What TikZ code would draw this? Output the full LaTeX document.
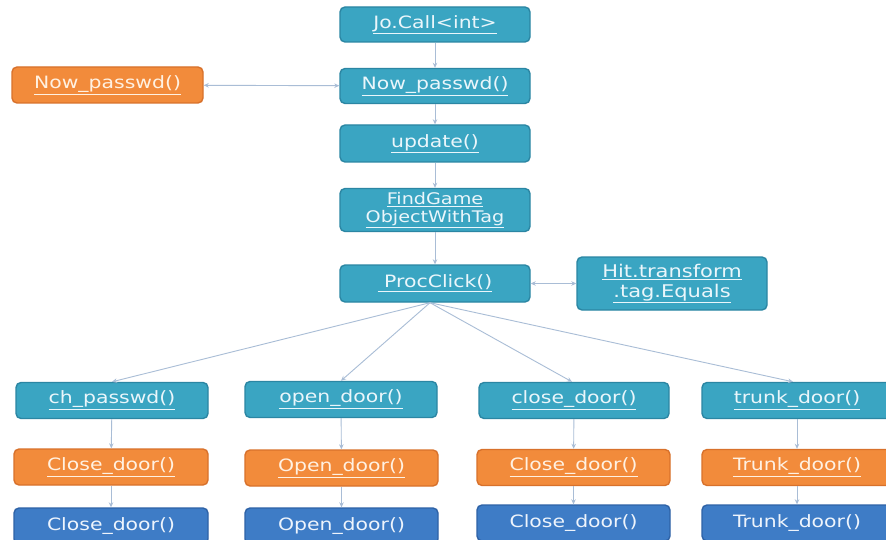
\documentclass[tikz,border=0pt]{standalone}
\usepackage{fontspec}
\setmainfont[FakeStretch=1.2]{DejaVu Sans}
\usetikzlibrary{arrows.meta}
\definecolor{tealf}{HTML}{3AA5C2}
\definecolor{tealb}{HTML}{2B86A3}
\definecolor{tealt}{HTML}{EAF6FB}
\definecolor{orgf}{HTML}{F28B3B}
\definecolor{orgb}{HTML}{D8712B}
\definecolor{orgt}{HTML}{FFF1E2}
\definecolor{bluef}{HTML}{3E7CC6}
\definecolor{blueb}{HTML}{2E62A6}
\definecolor{bluet}{HTML}{EEF4FC}
\definecolor{arr}{HTML}{A9BDD6}
\tikzset{
  box/.style={rounded corners=5pt, minimum width=190pt, minimum height=36pt,
    line width=1.4pt, inner sep=0pt, align=center,
    font=\fontsize{17}{20}\selectfont},
  tealbox/.style={box, fill=tealf, draw=tealb, text=tealt},
  orgbox/.style={box, fill=orgf, draw=orgb, text=orgt},
  bluebox/.style={box, fill=bluef, draw=blueb, text=bluet},
  conn/.style={draw=arr, line width=0.9pt, -{Stealth[length=5pt,width=4.5pt]}},
  dconn/.style={draw=arr, line width=0.9pt, {Stealth[length=5pt,width=4.5pt]}-{Stealth[length=5pt,width=4.5pt]}}
}
\newcommand{\ul}[1]{\underline{#1}}
\begin{document}
\begin{tikzpicture}[x=1pt,y=-1pt]
\useasboundingbox (0,0) rectangle (886,540);
\clip (0,0) rectangle (886,540);
\fill[white] (0,0) rectangle (886,540);

\node[tealbox, minimum height=35pt] (jo) at (435,24.5) {\ul{Jo.Call<int>}};
\node[tealbox, minimum height=35pt] (now) at (435,86) {\ul{Now\_passwd()}};
\node[orgbox, minimum width=191pt] (nowo) at (107.5,85) {\ul{Now\_passwd()}};
\node[tealbox, minimum height=37pt] (upd) at (435,143.5) {\ul{update()}};
\node[tealbox, minimum height=43pt, font=\fontsize{16}{18}\selectfont] (find) at (435,210) {\ul{FindGame}\\\ul{ObjectWithTag}};
\node[tealbox, minimum height=37pt] (proc) at (435,283.5) {\ul{\ ProcClick()}};
\node[tealbox, minimum height=53pt, font=\fontsize{17.5}{20}\selectfont] (hit) at (672,283.5) {\ul{Hit.transform}\\\ul{.tag.Equals}};

\node[tealbox, minimum width=192pt] (ch) at (112,400.5) {\ul{ch\_passwd()}};
\node[tealbox, minimum width=192pt] (od) at (341,399.5) {\ul{open\_door()}};
\node[tealbox] (cd) at (574,400.5) {\ul{close\_door()}};
\node[tealbox] (td) at (797,400.5) {\ul{trunk\_door()}};

\node[orgbox, minimum width=194pt] (ch2) at (111,467) {\ul{Close\_door()}};
\node[orgbox, minimum width=193pt] (od2) at (341.5,468) {\ul{Open\_door()}};
\node[orgbox, minimum width=193pt] (cd2) at (573.5,467.5) {\ul{Close\_door()}};
\node[orgbox] (td2) at (797,467.5) {\ul{Trunk\_door()}};

\node[bluebox, minimum width=194pt] (ch3) at (111,526) {Close\_door()};
\node[bluebox, minimum width=193pt] (od3) at (341.5,526) {Open\_door()};
\node[bluebox, minimum width=193pt] (cd3) at (573.5,523) {Close\_door()};
\node[bluebox] (td3) at (797,523) {Trunk\_door()};

\coordinate (fan) at ([xshift=-5pt]proc.south);
\draw[conn] (jo) -- (now);
\draw[dconn] (nowo) -- (now);
\draw[conn] (now) -- (upd);
\draw[conn] (upd) -- (find);
\draw[conn] (find) -- (proc);
\draw[dconn] (proc) -- (hit);
\draw[conn] (fan) -- (ch.north);
\draw[conn] (fan) -- (od.north);
\draw[conn] (fan) -- ([xshift=-2pt]cd.north);
\draw[conn] (fan) -- ([xshift=-4pt]td.north);
\draw[conn] (ch) -- (ch2);
\draw[conn] (ch2) -- (ch3);
\draw[conn] (od) -- (od2);
\draw[conn] (od2) -- (od3);
\draw[conn] (cd) -- (cd2);
\draw[conn] (cd2) -- (cd3);
\draw[conn] (td) -- (td2);
\draw[conn] (td2) -- (td3);
\end{tikzpicture}
\end{document}
